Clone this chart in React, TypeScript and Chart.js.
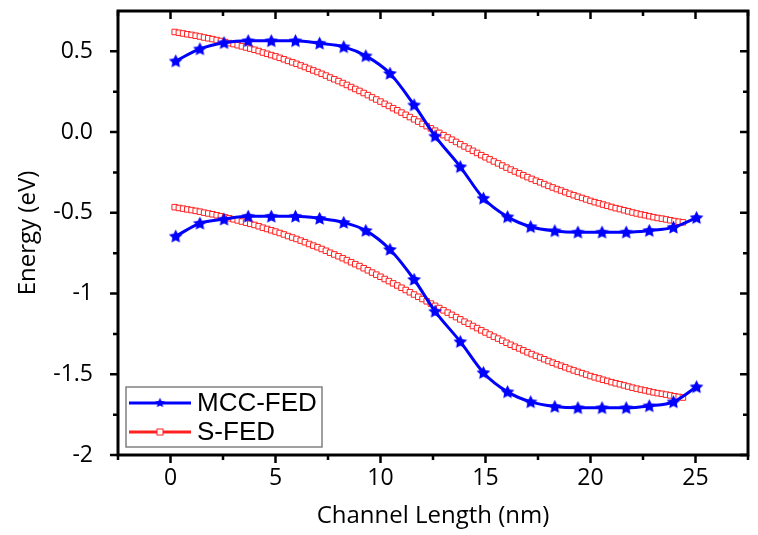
import React, { useEffect, useRef } from 'react';
import { Chart, registerables } from 'chart.js';

Chart.register(...registerables);

const W = 758;
const H = 535;

// ---- Axis ticks ----
const xTickValues = [0, 5, 10, 15, 20, 25];
const xTickLabels = ['0', '5', '10', '15', '20', '25'];
const xMinorTicks = [-2.5, 2.5, 7.5, 12.5, 17.5, 22.5, 27.5];
const yTickValues = [-2, -1.5, -1, -0.5, 0, 0.5];
const yTickLabels = ['-2', '-1.5', '-1', '-0.5', '0.0', '0.5'];
const yMinorTicks = [-1.75, -1.25, -0.75, -0.25, 0.25];

// ---- MCC-FED (stars) ----
const mccX = [0.25, 1.4, 2.55, 3.7, 4.8, 5.95, 7.1, 8.25, 9.3, 10.45, 11.6, 12.6, 13.8, 14.9, 16.05, 17.15, 18.3, 19.4, 20.55, 21.7, 22.8, 23.95, 25.05];
const mccConduction = [0.44, 0.515, 0.553, 0.565, 0.565, 0.565, 0.55, 0.528, 0.472, 0.363, 0.168, -0.025, -0.215, -0.41, -0.525, -0.586, -0.612, -0.62, -0.62, -0.62, -0.61, -0.59, -0.53];
const mccValence = [-0.645, -0.565, -0.54, -0.522, -0.522, -0.522, -0.535, -0.56, -0.61, -0.727, -0.913, -1.11, -1.298, -1.49, -1.609, -1.671, -1.7, -1.708, -1.708, -1.708, -1.696, -1.671, -1.578];

// ---- S-FED (open squares) ----
const sfedX = [
  0.2, 0.4, 0.6, 0.8, 1.0, 1.2, 1.4, 1.6, 1.8, 2.0, 2.2, 2.4, 2.6, 2.8, 3.0, 3.2, 3.4, 3.6, 3.8, 4.0,
  4.2, 4.4, 4.6, 4.8, 5.0, 5.2, 5.4, 5.6, 5.8, 6.0, 6.2, 6.4, 6.6, 6.8, 7.0, 7.2, 7.4, 7.6, 7.8, 8.0,
  8.2, 8.4, 8.6, 8.8, 9.0, 9.2, 9.4, 9.6, 9.8, 10.0, 10.2, 10.4, 10.6, 10.8, 11.0, 11.2, 11.4, 11.6, 11.8, 12.0,
  12.2, 12.4, 12.6, 12.8, 13.0, 13.2, 13.4, 13.6, 13.8, 14.0, 14.2, 14.4, 14.6, 14.8, 15.0, 15.2, 15.4, 15.6, 15.8, 16.0,
  16.2, 16.4, 16.6, 16.8, 17.0, 17.2, 17.4, 17.6, 17.8, 18.0, 18.2, 18.4, 18.6, 18.8, 19.0, 19.2, 19.4, 19.6, 19.8, 20.0,
  20.2, 20.4, 20.6, 20.8, 21.0, 21.2, 21.4, 21.6, 21.8, 22.0, 22.2, 22.4, 22.6, 22.8, 23.0, 23.2, 23.4, 23.6, 23.8, 24.0,
  24.2, 24.4,
];
const sfedConduction = [
  0.62, 0.615, 0.611, 0.606, 0.602, 0.597, 0.592, 0.586, 0.581, 0.576, 0.57, 0.564, 0.557, 0.551, 0.545, 0.538, 0.531, 0.524, 0.517, 0.51,
  0.502, 0.493, 0.485, 0.477, 0.469, 0.46, 0.451, 0.441, 0.432, 0.423, 0.413, 0.403, 0.392, 0.382, 0.372, 0.361, 0.35, 0.338, 0.327, 0.316,
  0.304, 0.292, 0.279, 0.267, 0.255, 0.242, 0.229, 0.215, 0.202, 0.189, 0.175, 0.162, 0.148, 0.135, 0.121, 0.107, 0.093, 0.079, 0.065, 0.051,
  0.037, 0.023, 0.009, -0.005, -0.019, -0.033, -0.047, -0.061, -0.075, -0.089, -0.102, -0.116, -0.129, -0.143, -0.156, -0.169, -0.182, -0.194, -0.207, -0.22,
  -0.232, -0.244, -0.255, -0.267, -0.279, -0.29, -0.301, -0.311, -0.322, -0.333, -0.343, -0.353, -0.362, -0.372, -0.382, -0.391, -0.4, -0.408, -0.417, -0.426,
  -0.434, -0.441, -0.449, -0.456, -0.464, -0.471, -0.477, -0.484, -0.491, -0.498, -0.504, -0.51, -0.515, -0.521, -0.527, -0.532, -0.536, -0.541, -0.546, -0.551,
  -0.555, -0.559,
];
const sfedValence = [
  -0.465, -0.47, -0.474, -0.479, -0.483, -0.488, -0.493, -0.499, -0.504, -0.509, -0.515, -0.521, -0.528, -0.534, -0.54, -0.547, -0.554, -0.561, -0.568, -0.575,
  -0.583, -0.592, -0.6, -0.608, -0.616, -0.625, -0.634, -0.644, -0.653, -0.662, -0.672, -0.682, -0.693, -0.703, -0.713, -0.724, -0.735, -0.747, -0.758, -0.769,
  -0.781, -0.793, -0.806, -0.818, -0.83, -0.843, -0.856, -0.87, -0.883, -0.896, -0.91, -0.923, -0.937, -0.95, -0.964, -0.978, -0.992, -1.006, -1.02, -1.034,
  -1.048, -1.062, -1.076, -1.09, -1.104, -1.118, -1.132, -1.146, -1.16, -1.174, -1.187, -1.201, -1.214, -1.228, -1.241, -1.254, -1.267, -1.279, -1.292, -1.305,
  -1.317, -1.329, -1.34, -1.352, -1.364, -1.375, -1.386, -1.396, -1.407, -1.418, -1.428, -1.438, -1.447, -1.457, -1.467, -1.476, -1.485, -1.493, -1.502, -1.511,
  -1.519, -1.526, -1.534, -1.541, -1.549, -1.556, -1.562, -1.569, -1.576, -1.583, -1.589, -1.595, -1.6, -1.606, -1.612, -1.617, -1.621, -1.626, -1.631, -1.636,
  -1.64, -1.644,
];

const BLUE = '#0000ff';
const RED = '#ff2020';
const legendLabels = ['MCC-FED', 'S-FED'];
const xTitle = 'Channel Length (nm)';
const yTitle = 'Energy (eV)';

function zip(xs: number[], ys: number[]) {
  return xs.map((x, i) => ({ x, y: ys[i] }));
}

function makeStar(size: number, color: string) {
  const c = document.createElement('canvas');
  c.width = size;
  c.height = size;
  const g = c.getContext('2d')!;
  const cx = size / 2;
  const cy = size / 2 + 0.5;
  const R = size / 2 - 0.3;
  const r = R * 0.5;
  g.beginPath();
  for (let i = 0; i < 10; i++) {
    const ang = -Math.PI / 2 + (i * Math.PI) / 5;
    const rad = i % 2 === 0 ? R : r;
    const px = cx + rad * Math.cos(ang);
    const py = cy + rad * Math.sin(ang);
    if (i === 0) g.moveTo(px, py);
    else g.lineTo(px, py);
  }
  g.closePath();
  g.fillStyle = color;
  g.fill();
  return c;
}

export default function App() {
  const ref = useRef<HTMLCanvasElement | null>(null);

  useEffect(() => {
    if (!ref.current) return;
    document.body.style.margin = '0';
    const star = makeStar(15, BLUE);
    const legendStar = makeStar(11, BLUE);

    const framePlugin = {
      id: 'frame',
      afterDraw(chart: any) {
        const { ctx, chartArea: a, scales } = chart;
        const xs = scales.x;
        const ys = scales.y;
        ctx.save();
        ctx.strokeStyle = '#000';
        ctx.lineWidth = 2.5;
        ctx.beginPath();
        const major = 8;
        const minor = 5;
        xTickValues.forEach((v) => {
          const p = xs.getPixelForValue(v);
          ctx.moveTo(p, a.bottom);
          ctx.lineTo(p, a.bottom + major);
          ctx.moveTo(p, a.top);
          ctx.lineTo(p, a.top + major);
        });
        xMinorTicks.forEach((v) => {
          const p = xs.getPixelForValue(v);
          ctx.moveTo(p, a.bottom);
          ctx.lineTo(p, a.bottom + minor);
          ctx.moveTo(p, a.top);
          ctx.lineTo(p, a.top + minor);
        });
        yTickValues.forEach((v) => {
          const p = ys.getPixelForValue(v);
          ctx.moveTo(a.left, p);
          ctx.lineTo(a.left - major, p);
          ctx.moveTo(a.right, p);
          ctx.lineTo(a.right - major, p);
        });
        yMinorTicks.forEach((v) => {
          const p = ys.getPixelForValue(v);
          ctx.moveTo(a.left, p);
          ctx.lineTo(a.left - minor, p);
          ctx.moveTo(a.right, p);
          ctx.lineTo(a.right - minor, p);
        });
        ctx.stroke();
        ctx.lineWidth = 3;
        ctx.strokeRect(a.left, a.top, a.right - a.left, a.bottom - a.top);

        // legend
        const bx = a.left + 8;
        const bw = 196;
        const bh = 60;
        const by = a.bottom - 8 - bh;
        ctx.fillStyle = '#fff';
        ctx.fillRect(bx, by, bw, bh);
        ctx.lineWidth = 1.5;
        ctx.strokeStyle = '#808080';
        ctx.strokeRect(bx, by, bw, bh);
        const rows = [by + 16, by + 45];
        const lx0 = bx + 3;
        const lx1 = bx + 65;
        const mx = bx + 34;
        ctx.lineWidth = 3;
        ctx.strokeStyle = BLUE;
        ctx.beginPath();
        ctx.moveTo(lx0, rows[0]);
        ctx.lineTo(lx1, rows[0]);
        ctx.stroke();
        ctx.drawImage(legendStar, mx - 5.5, rows[0] - 6);
        ctx.strokeStyle = RED;
        ctx.beginPath();
        ctx.moveTo(lx0, rows[1]);
        ctx.lineTo(lx1, rows[1]);
        ctx.stroke();
        ctx.fillStyle = '#fff';
        ctx.lineWidth = 1;
        ctx.fillRect(mx - 3, rows[1] - 3, 6, 6);
        ctx.strokeRect(mx - 3, rows[1] - 3, 6, 6);
        ctx.fillStyle = '#000';
        ctx.font = "26px 'Liberation Sans', Arial, sans-serif";
        ctx.textBaseline = 'middle';
        ctx.textAlign = 'left';
        ctx.fillText(legendLabels[0], bx + 71, rows[0] + 1);
        ctx.fillText(legendLabels[1], bx + 71, rows[1] + 1);
        ctx.restore();
      },
    };

    const mccStyle = {
      borderColor: BLUE,
      backgroundColor: BLUE,
      borderWidth: 3,
      pointStyle: star as any,
      pointRadius: 7,
      cubicInterpolationMode: 'monotone' as const,
      order: 0,
    };
    const sfedStyle = {
      borderColor: RED,
      backgroundColor: '#fff',
      borderWidth: 2,
      pointStyle: 'rect' as const,
      pointRadius: 3.9,
      pointBorderWidth: 1,
      pointBorderColor: RED,
      pointBackgroundColor: '#fff',
      order: 1,
    };

    const chart = new Chart(ref.current, {
      type: 'line',
      data: {
        datasets: [
          { label: legendLabels[0], data: zip(mccX, mccConduction), ...mccStyle },
          { label: legendLabels[0], data: zip(mccX, mccValence), ...mccStyle },
          { label: legendLabels[1], data: zip(sfedX, sfedConduction), ...sfedStyle },
          { label: legendLabels[1], data: zip(sfedX, sfedValence), ...sfedStyle },
        ],
      },
      options: {
        animation: false,
        responsive: false,
        events: [],
        layout: { padding: { top: 11, right: 7, left: 0, bottom: 0 } },
        plugins: { legend: { display: false }, tooltip: { enabled: false } },
        scales: {
          x: {
            type: 'linear',
            min: -2.5,
            max: 27.5,
            grid: { display: false },
            border: { display: false },
            afterBuildTicks: (s: any) => {
              s.ticks = xTickValues.map((v) => ({ value: v }));
            },
            afterFit: (s: any) => {
              s.height = 80;
              s.paddingLeft = 0;
              s.paddingRight = 0;
            },
            ticks: {
              color: '#000',
              padding: 2,
              maxRotation: 0,
              font: { size: 23, family: "'Open Sans', sans-serif" },
              callback: (v: any) => xTickLabels[xTickValues.indexOf(Number(v))] ?? '',
            },
            title: {
              display: true,
              text: xTitle,
              color: '#000',
              font: { size: 24, family: "'Open Sans', sans-serif" },
              padding: { top: 0, bottom: 4 },
            },
          },
          y: {
            type: 'linear',
            min: -2,
            max: 0.75,
            grid: { display: false },
            border: { display: false },
            afterBuildTicks: (s: any) => {
              s.ticks = yTickValues.map((v) => ({ value: v }));
            },
            afterFit: (s: any) => {
              s.width = 118;
              s.paddingTop = 0;
              s.paddingBottom = 0;
            },
            ticks: {
              color: '#000',
              padding: 17,
              font: { size: 23, family: "'Open Sans', sans-serif" },
              callback: (v: any) => yTickLabels[yTickValues.indexOf(Number(v))] ?? '',
            },
            title: {
              display: true,
              text: yTitle,
              color: '#000',
              font: { size: 24, family: "'Open Sans', sans-serif" },
              padding: { top: 14, bottom: 0 },
            },
          },
        },
      },
      plugins: [framePlugin],
    });
    return () => chart.destroy();
  }, []);

  return (
    <div style={{ position: 'absolute', left: 0, top: 0, width: W, height: H, background: '#fff' }}>
      <canvas ref={ref} width={W} height={H} />
    </div>
  );
}
